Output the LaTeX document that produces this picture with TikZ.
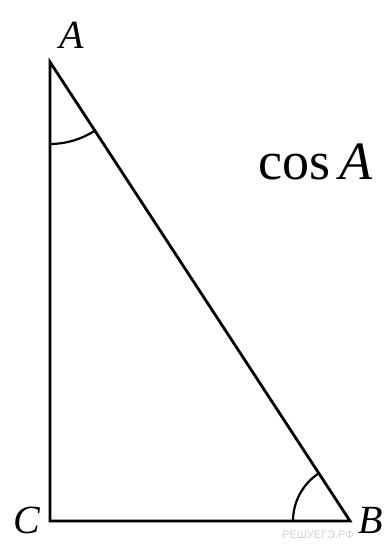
\documentclass[tikz,border=0pt]{standalone}
\usepackage{fontspec}
\setmainfont{Liberation Serif}
\newfontfamily\wmfont{Liberation Sans}
\begin{document}
\begin{tikzpicture}[x=1pt,y=1pt,
  side/.style={line width=2.8pt,line cap=round,line join=miter},
  anglearc/.style={line width=2.2pt},
  vlabel/.style={font=\fontsize{40}{40}\selectfont\itshape,inner sep=0pt},
  wm/.style={font=\wmfont\fontsize{11}{11}\selectfont,text=black!18,inner sep=0pt}]
\useasboundingbox (0,0) rectangle (388,544);
\coordinate (A) at (50,482);
\coordinate (C) at (50,23);
\coordinate (B) at (350,23);
\node[wm] (wm) at (318,9) {РЕШУЕГЭ.РФ};
\draw[side] (A) -- (C) -- (B) -- cycle;
\draw[anglearc] ([shift={(-90:82)}]A) arc[start angle=-90,end angle=-56.8,radius=82];
\draw[anglearc] ([shift={(123.2:57)}]B) arc[start angle=123.2,end angle=180,radius=57];
\node[vlabel] (lA) at (72,509) {A};
\node[vlabel] (lC) at (27,24) {C};
\node[vlabel] (lB) at (371,24) {B};
\node[inner sep=0pt,font=\fontsize{54}{54}\selectfont] (cosA) at (316,382) {cos\,\textit{A}};
\end{tikzpicture}
\end{document}
